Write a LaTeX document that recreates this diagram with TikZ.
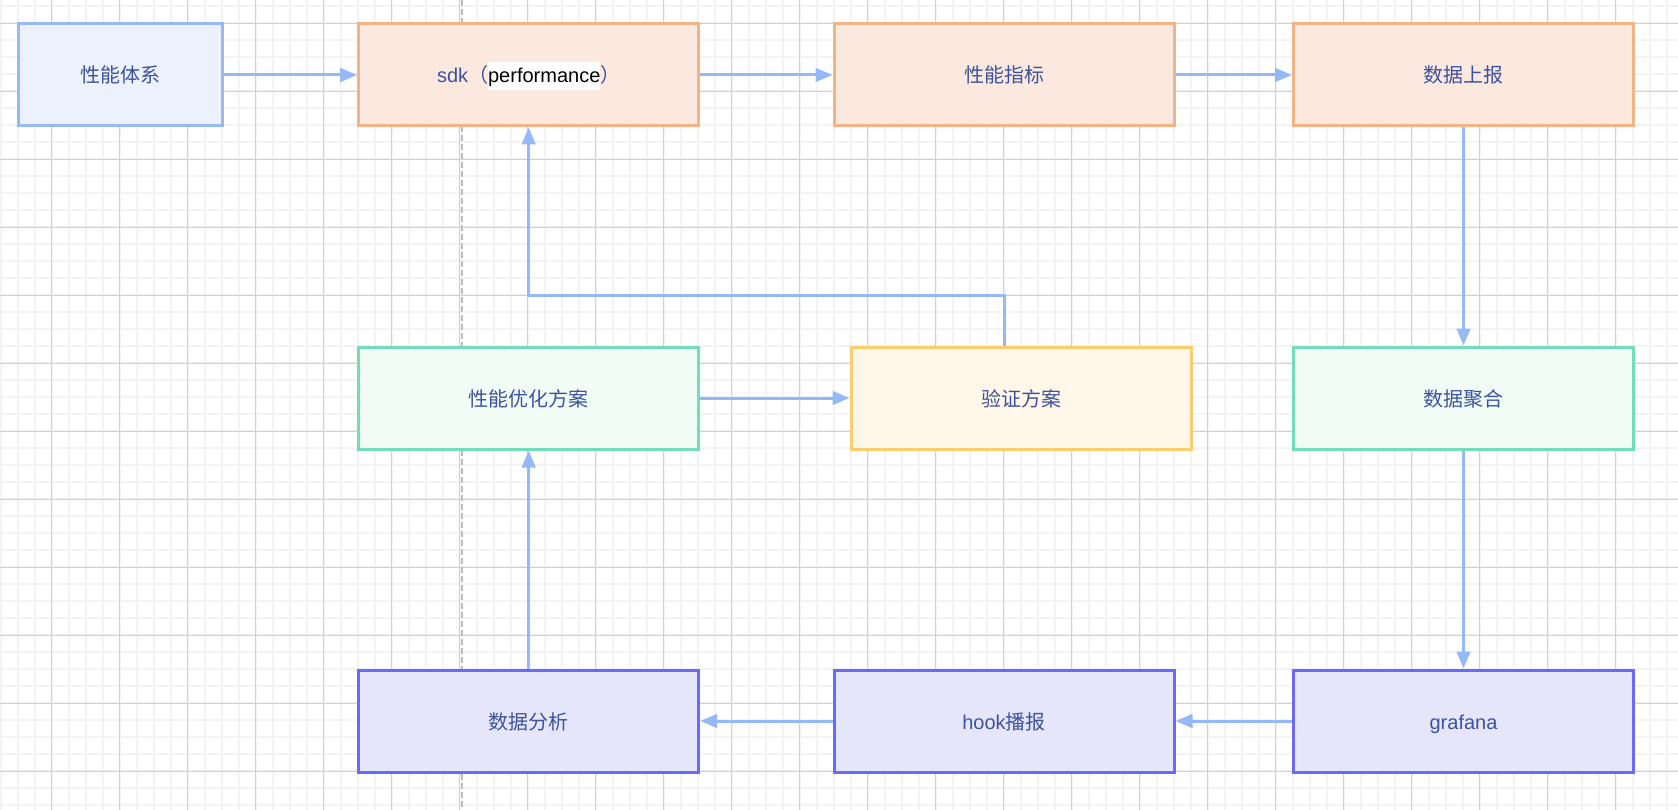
\documentclass[tikz,border=0pt]{standalone}
\usepackage{fontspec}
\setmainfont{Liberation Sans}
\newfontfamily\cjk{Noto Sans CJK SC}
\usetikzlibrary{arrows.meta,calc}
\definecolor{txt}{HTML}{3D529E}
\definecolor{arrowc}{HTML}{95B9F7}
\definecolor{bluefill}{HTML}{EBF1FD}
\definecolor{blueline}{HTML}{95B9F7}
\definecolor{orangefill}{HTML}{FBE9E0}
\definecolor{orangeline}{HTML}{F4B384}
\definecolor{greenfill}{HTML}{F2FCF6}
\definecolor{greenline}{HTML}{72DEB9}
\definecolor{yellowfill}{HTML}{FFF8E8}
\definecolor{yellowline}{HTML}{FCCD6E}
\definecolor{purplefill}{HTML}{E6E6FB}
\definecolor{purpleline}{HTML}{6A6AF7}
\definecolor{minorc}{HTML}{F3F3F3}
\definecolor{majorc}{HTML}{D0D0D0}
\definecolor{dashc}{HTML}{BDBDBD}
\setlength{\fboxsep}{0pt}
\begin{document}
\begin{tikzpicture}[x=1pt,y=-1pt,
  minorgrid/.style={draw=minorc, line width=2pt},
  majorgrid/.style={draw=majorc, line width=1.2pt},
  guide/.style={draw=dashc, line width=2pt, dash pattern=on 6pt off 3pt},
  box/.style={draw, line width=3pt, minimum width=340pt, minimum height=102pt,
    inner sep=0pt, text=txt, font=\fontsize{20}{24}\selectfont,
    text height=20pt, text depth=4pt},
  bluebox/.style={box, fill=bluefill, draw=blueline},
  orangebox/.style={box, fill=orangefill, draw=orangeline},
  greenbox/.style={box, fill=greenfill, draw=greenline},
  yellowbox/.style={box, fill=yellowfill, draw=yellowline},
  purplebox/.style={box, fill=purplefill, draw=purpleline},
  arr/.style={draw=arrowc, line width=3pt, -{Triangle[length=17pt,width=13.5pt]}}
]
\useasboundingbox (0,0) rectangle (1678,810);
\fill[white] (0,0) rectangle (1678,810);
% grid
\foreach \i in {0,...,98} {\draw[minorgrid] ({0.5+17*\i},0) -- ({0.5+17*\i},810);}
\foreach \j in {0,...,47} {\draw[minorgrid] (0,{6.3+17*\j}) -- (1678,{6.3+17*\j});}
\foreach \i in {0,...,23} {\draw[majorgrid] ({51.5+68*\i},0) -- ({51.5+68*\i},810);}
\foreach \j in {0,...,11} {\draw[majorgrid] (0,{23.3+68*\j}) -- (1678,{23.3+68*\j});}
% dashed guide
\draw[guide] (461.7,0) -- (461.7,810);
% nodes
\node[bluebox, minimum width=204pt] (a) at (120.3,75) {\cjk 性能体系};
\node[orangebox] (b1) at (528.7,75) {sdk{\cjk （}\colorbox{white}{\color{black}\rule[-7pt]{0pt}{28.3pt}performance}{\cjk ）}};
\node[orangebox] (c1) at (1004,75) {\cjk 性能指标};
\node[orangebox] (d1) at (1463.5,75) {\cjk 数据上报};
\node[greenbox] (b2) at (528.7,398) {\cjk 性能优化方案};
\node[yellowbox] (v) at (1021,398) {\cjk 验证方案};
\node[greenbox] (d2) at (1463.5,398) {\cjk 数据聚合};
\node[purplebox] (b3) at (528.7,721) {\cjk 数据分析};
\node[purplebox] (c3) at (1004,721) {hook{\cjk 播报}};
\node[purplebox] (d3) at (1463.5,721) {grafana};
\coordinate (vj) at (528.7,295.3);
% connectors
\draw[arr] (a) -- (b1);
\draw[arr] (b1) -- (c1);
\draw[arr] (c1) -- (d1);
\draw[arr] (d1) -- (d2);
\draw[arr] (d2) -- (d3);
\draw[arr] (d3) -- (c3);
\draw[arr] (c3) -- (b3);
\draw[arr] (b3) -- (b2);
\draw[arr] (b2) -- (v);
\draw[arr] (c1 |- v.north) |- (vj) -- (b1.south);
\end{tikzpicture}
\end{document}
